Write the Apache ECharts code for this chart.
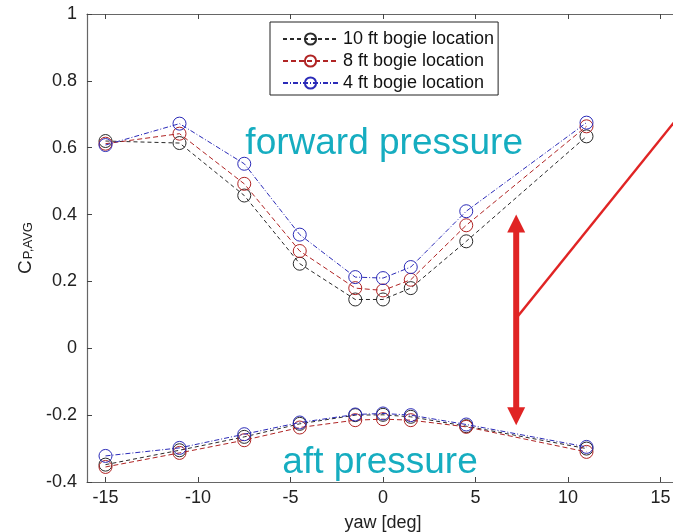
<!DOCTYPE html>
<html><head><meta charset="utf-8">
<script src="https://cdn.jsdelivr.net/npm/echarts@6/dist/echarts.min.js"></script>
<style>html,body{margin:0;padding:0;background:#fff}#c{width:673px;height:532px}</style>
</head><body><div id="c"></div>
<script>
// ---- data ----
const yawDeg = [-15, -11, -7.5, -4.5, -1.5, 0, 1.5, 4.5, 11];
const seriesNames = ['10 ft bogie location', '8 ft bogie location', '4 ft bogie location'];
const fwd10 = [0.620, 0.614, 0.457, 0.253, 0.146, 0.146, 0.180, 0.320, 0.634];
const fwd8  = [0.612, 0.642, 0.492, 0.291, 0.180, 0.173, 0.205, 0.368, 0.664];
const fwd4  = [0.608, 0.672, 0.552, 0.340, 0.213, 0.210, 0.243, 0.410, 0.675];
const aft10 = [-0.348, -0.305, -0.265, -0.226, -0.200, -0.199, -0.205, -0.233, -0.300];
const aft8  = [-0.355, -0.313, -0.275, -0.237, -0.215, -0.212, -0.215, -0.235, -0.310];
const aft4  = [-0.322, -0.298, -0.257, -0.222, -0.198, -0.195, -0.200, -0.228, -0.295];
const xTickValues = [-15, -10, -5, 0, 5, 10, 15];
// annotation anchors in data coordinates
const arrowX = 7.2, arrowTopY = 0.40, arrowBottomY = -0.23;
const slashStart = [7.2, 0.09], slashEnd = [17, 0.763];
const fwdLabelAt = [-7.44, 0.612], aftLabelAt = [-5.44, -0.344];

// ---- styles ----
const FONT = "'Liberation Sans', Arial, sans-serif";
const colors = ['#2a2a2a', '#b02424', '#2b2bb8'];
const dashes = [[4, 3], [5, 3], [5, 2, 1, 2]];

function mk(name, vals, i) {
  return {
    name: name, type: 'line', data: yawDeg.map((x, k) => [x, vals[k]]),
    symbol: 'circle', symbolSize: 13,
    lineStyle: { color: colors[i], width: 1, type: dashes[i] },
    itemStyle: { color: 'rgba(255,255,255,0)', borderColor: colors[i], borderWidth: 1 },
    emphasis: { disabled: true }, animation: false, z: 3 + i
  };
}
const seriesList = [
  mk(seriesNames[0], fwd10, 0), mk(seriesNames[1], fwd8, 1), mk(seriesNames[2], fwd4, 2),
  mk(seriesNames[0], aft10, 0), mk(seriesNames[1], aft8, 1), mk(seriesNames[2], aft4, 2)
];

const chart = echarts.init(document.getElementById('c'), null, { renderer: 'canvas' });
const axisLineStyle = { color: '#666', width: 1.2 };
chart.setOption({
  animation: false,
  backgroundColor: '#fff',
  textStyle: { fontFamily: FONT },
  grid: { left: 87, right: -6, top: 14, bottom: 50, show: false, containLabel: false, outerBoundsMode: 'none' },
  legend: {
    data: seriesNames, orient: 'vertical', left: 270, top: 22,
    backgroundColor: '#fff', borderColor: '#222', borderWidth: 1,
    padding: [8, 4, 3, 12], itemWidth: 55, itemHeight: 14, itemGap: 4,
    textStyle: { fontFamily: FONT, fontSize: 18, color: '#111', lineHeight: 18 },
    selectedMode: false
  },
  xAxis: [{
    type: 'value', min: -16, max: 16, position: 'bottom',
    name: 'yaw [deg]', nameLocation: 'middle', nameGap: 32,
    nameTextStyle: { fontFamily: FONT, fontSize: 18, color: '#222' },
    axisLine: { show: true, onZero: false, lineStyle: axisLineStyle },
    axisTick: { show: true, inside: true, length: 5, customValues: xTickValues, lineStyle: { color: '#444' } },
    axisLabel: { customValues: xTickValues, fontFamily: FONT, fontSize: 18, color: '#222', margin: 7 },
    splitLine: { show: false }
  }, {
    type: 'value', min: -16, max: 16, position: 'top',
    axisLine: { show: true, onZero: false, lineStyle: axisLineStyle },
    axisTick: { show: true, inside: true, length: 5, customValues: xTickValues, lineStyle: { color: '#444' } },
    axisLabel: { show: false }, splitLine: { show: false }
  }],
  yAxis: [{
    type: 'value', min: -0.4, max: 1, interval: 0.2, position: 'left',
    name: '{c|C}{s|P,AVG}', nameLocation: 'middle', nameRotate: 90, nameGap: 48,
    nameTextStyle: {
      rich: {
        c: { fontFamily: FONT, fontSize: 19, color: '#222', lineHeight: 19, verticalAlign: 'top' },
        s: { fontFamily: FONT, fontSize: 13, color: '#222', lineHeight: 13, verticalAlign: 'bottom', padding: [16, 0, 0, 1] }
      }
    },
    axisLine: { show: true, onZero: false, lineStyle: axisLineStyle },
    axisTick: { show: true, inside: true, length: 5, lineStyle: { color: '#444' } },
    axisLabel: {
      fontFamily: FONT, fontSize: 18, color: '#222', margin: 10,
      formatter: v => String(Math.round(v * 10) / 10)
    },
    splitLine: { show: false }
  }],
  series: seriesList
});

function toPx(p) { return chart.convertToPixel({ gridIndex: 0 }, p); }
const arrTop = toPx([arrowX, arrowTopY]);
const arrBot = toPx([arrowX, arrowBottomY]);
const sl0 = toPx(slashStart), sl1 = toPx(slashEnd);
const fPos = toPx(fwdLabelAt), aPos = toPx(aftLabelAt);
const RED = '#e02424', TEAL = '#16adc0';
const headH = 18, headW = 9;
chart.setOption({
  graphic: [
    { type: 'line', shape: { x1: arrTop[0], y1: arrTop[1] + headH - 2, x2: arrBot[0], y2: arrBot[1] - headH + 2 },
      style: { stroke: RED, lineWidth: 6 }, z: 100 },
    { type: 'polygon', shape: { points: [[arrTop[0], arrTop[1]], [arrTop[0] - headW, arrTop[1] + headH], [arrTop[0] + headW, arrTop[1] + headH]] },
      style: { fill: RED }, z: 100 },
    { type: 'polygon', shape: { points: [[arrBot[0], arrBot[1]], [arrBot[0] - headW, arrBot[1] - headH], [arrBot[0] + headW, arrBot[1] - headH]] },
      style: { fill: RED }, z: 100 },
    { type: 'line', shape: { x1: sl0[0], y1: sl0[1], x2: sl1[0], y2: sl1[1] },
      style: { stroke: RED, lineWidth: 2.5 }, z: 100 },
    { type: 'text', x: fPos[0], y: fPos[1],
      style: { text: 'forward pressure', fill: TEAL, font: '37px ' + FONT, align: 'left', verticalAlign: 'middle' }, z: 100 },
    { type: 'text', x: aPos[0], y: aPos[1],
      style: { text: 'aft pressure', fill: TEAL, font: '37px ' + FONT, align: 'left', verticalAlign: 'middle' }, z: 100 }
  ]
});
</script></body></html>
